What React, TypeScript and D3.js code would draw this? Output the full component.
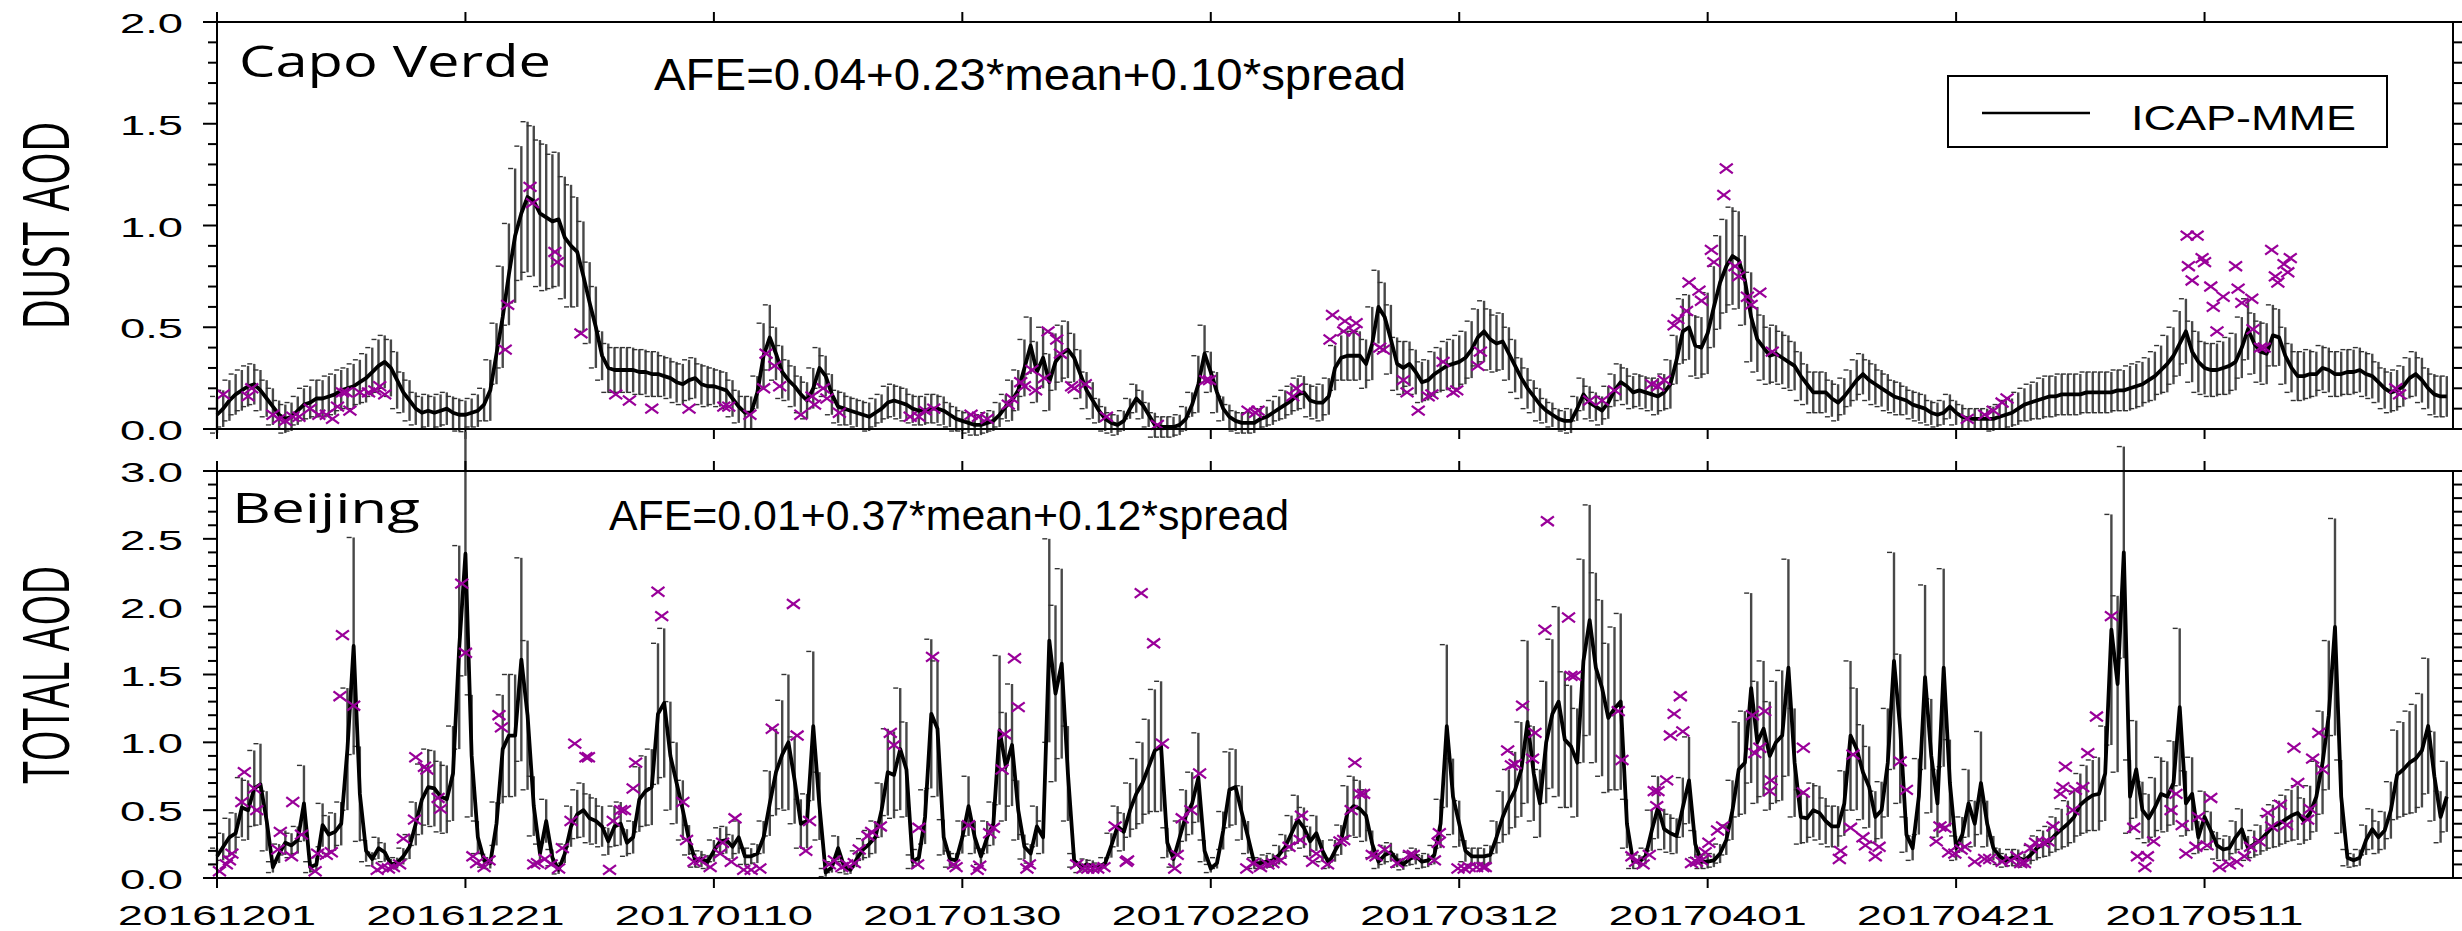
import React from "react";
import * as d3 from "d3";

const W = 2462;
const H = 931;
const X0 = 217;
const X1 = 2453;
const DAYS = 180;
const SAMPLES_PER_DAY = 2;

const xTickDays = [0, 20, 40, 60, 80, 100, 120, 140, 160];
const xTickLabels = ["20161201", "20161221", "20170110", "20170130", "20170220", "20170312", "20170401", "20170421", "20170511"];

// Capo Verde ICAP-MME mean dust AOD, two samples per day
const capoMean = [
  0.07,0.10,0.14,0.17,0.19,0.21,0.22,0.19,0.15,0.11, 0.07,0.05,0.06,0.09,0.12,0.13,0.15,0.15,0.16,0.17,
  0.19,0.20,0.21,0.23,0.25,0.28,0.31,0.33,0.30,0.24, 0.18,0.14,0.10,0.08,0.09,0.08,0.09,0.10,0.08,0.07,
  0.07,0.08,0.09,0.12,0.19,0.37,0.55,0.76,0.95,1.06, 1.14,1.12,1.06,1.04,1.02,1.03,0.94,0.90,0.87,0.75,
  0.62,0.50,0.36,0.30,0.29,0.29,0.29,0.29,0.28,0.28, 0.27,0.27,0.26,0.25,0.23,0.22,0.24,0.25,0.22,0.21,
  0.21,0.20,0.19,0.15,0.11,0.08,0.08,0.18,0.36,0.45, 0.37,0.28,0.24,0.21,0.17,0.14,0.20,0.30,0.26,0.17,
  0.11,0.10,0.09,0.08,0.07,0.06,0.08,0.10,0.13,0.14, 0.13,0.12,0.10,0.09,0.09,0.10,0.10,0.09,0.07,0.05,
  0.04,0.03,0.02,0.02,0.03,0.04,0.07,0.11,0.14,0.19, 0.30,0.41,0.28,0.35,0.23,0.33,0.37,0.39,0.35,0.27,
  0.19,0.14,0.09,0.05,0.03,0.02,0.04,0.10,0.15,0.12, 0.07,0.02,0.01,0.01,0.01,0.02,0.05,0.12,0.22,0.37,
  0.28,0.18,0.10,0.06,0.04,0.03,0.03,0.03,0.05,0.06, 0.08,0.10,0.12,0.14,0.17,0.18,0.14,0.13,0.13,0.16,
  0.30,0.35,0.36,0.36,0.36,0.32,0.42,0.60,0.55,0.44, 0.32,0.30,0.32,0.28,0.23,0.24,0.27,0.29,0.31,0.32,
  0.33,0.35,0.39,0.45,0.48,0.44,0.42,0.43,0.37,0.31, 0.25,0.20,0.16,0.12,0.09,0.07,0.05,0.04,0.04,0.10,
  0.17,0.13,0.11,0.09,0.13,0.19,0.23,0.21,0.18,0.19, 0.18,0.17,0.16,0.18,0.22,0.34,0.48,0.50,0.41,0.40,
  0.47,0.60,0.72,0.80,0.85,0.83,0.73,0.55,0.44,0.40, 0.36,0.37,0.35,0.33,0.31,0.26,0.22,0.18,0.18,0.18,
  0.15,0.13,0.16,0.20,0.24,0.27,0.24,0.22,0.20,0.18, 0.16,0.15,0.14,0.12,0.11,0.10,0.08,0.07,0.08,0.11,
  0.08,0.06,0.05,0.05,0.05,0.05,0.05,0.06,0.07,0.08, 0.10,0.12,0.13,0.14,0.15,0.16,0.16,0.17,0.17,0.17,
  0.17,0.18,0.18,0.18,0.18,0.18,0.19,0.19,0.20,0.21, 0.22,0.24,0.26,0.29,0.32,0.36,0.42,0.48,0.38,0.33,
  0.30,0.29,0.29,0.30,0.31,0.33,0.40,0.49,0.42,0.38, 0.37,0.46,0.45,0.36,0.30,0.26,0.26,0.27,0.27,0.30,
  0.29,0.27,0.27,0.28,0.28,0.29,0.27,0.26,0.23,0.20, 0.18,0.19,0.21,0.25,0.27,0.24,0.20,0.17,0.16,0.16,
];

// Capo Verde ensemble spread (bar half-length), one value per day
const capoSpread = [
  0.09,0.10,0.10,0.10,0.09, 0.07,0.07,0.08, 0.09,0.10,0.10,0.11, 0.12,0.13,0.14,
  0.10,0.08,0.08,0.08,0.08,0.07,0.08, 0.15,0.25, 0.33,0.37,0.36,0.33,0.30, 0.27,0.20,
  0.12,0.11,0.11,0.11,0.11,0.10,0.10,0.10, 0.10,0.09,0.09,0.08,0.08, 0.16,0.13,
  0.10,0.09,0.10,0.10, 0.08,0.07,0.07,0.07,0.08,0.08,0.07,0.07,0.07,0.06,
  0.05,0.05,0.05,0.06, 0.10,0.14,0.15,0.14,0.14,0.12,
  0.09,0.06,0.05,0.05,0.07,0.06,0.05,0.05,0.06, 0.14,0.10, 0.06,0.05,0.05,0.05,
  0.06,0.07,0.08,0.08,0.09, 0.11,0.12,0.12, 0.18,0.17, 0.13,0.11,0.10,0.11,0.12,
  0.13,0.14,0.15,0.14,0.13, 0.10,0.08,0.06,0.05,0.06, 0.08,0.07,0.08,0.09,0.08,0.08,0.09,
  0.12,0.16,0.15, 0.20,0.23,0.24,0.22, 0.16,0.14,0.13,0.12,
  0.10,0.10,0.09,0.09,0.10,0.10,0.09, 0.08,0.07,0.07,0.06,0.06,0.06,0.05,0.05,0.06,0.07,
  0.08,0.09,0.10,0.10,0.10,0.10,0.10,0.10,0.10,0.11,0.11, 0.12,0.14,0.16,0.15,
  0.13,0.13,0.14,0.15,0.15,0.15,0.14, 0.12,0.12,0.11,0.11,0.11,0.11,0.11,0.10,0.10,0.10,0.11,0.10,0.10,
];

// Capo Verde AERONET dust AOD observations: [day since 20161201, AOD]
const capoObs = [
  [0.5,0.17],[2.5,0.16],[2.8,0.20],[4.5,0.07],[5.0,0.05],[5.5,0.04],[6.1,0.06],[6.6,0.06],[7.5,0.10],[8.2,0.07],
  [8.8,0.07],[9.3,0.05],[9.7,0.11],[10.1,0.18],[10.4,0.18],[10.7,0.09],[11.5,0.18],[12.2,0.18],[12.7,0.19],[13.1,0.21],
  [13.5,0.17],[23.2,0.39],[23.4,0.61],[25.2,1.19],[25.4,1.11],[27.2,0.87],[27.4,0.82],[29.3,0.47],[32.1,0.17],[33.2,0.14],
  [35.0,0.10],[38.0,0.10],
  [40.8,0.11],[41.2,0.11],[42.9,0.07],[44.2,0.37],[44.9,0.31],[44.0,0.20],[45.3,0.21],[47.0,0.07],[47.9,0.16],[48.1,0.12],
  [48.8,0.20],[49.1,0.15],[50.1,0.08],[55.8,0.06],[56.5,0.06],[57.0,0.09],[57.7,0.10],[60.7,0.07],[61.3,0.06],[62.0,0.05],
  [63.7,0.12],[64.0,0.15],[64.7,0.23],[65.0,0.21],[65.6,0.29],[65.9,0.19],[66.6,0.25],[66.9,0.48],[67.6,0.44],[67.9,0.37],
  [68.8,0.21],[69.0,0.20],[69.9,0.22],[71.6,0.06],[75.7,0.02],[79.6,0.24],[79.9,0.24],[83.0,0.09],
  [83.6,0.08],[83.8,0.09],[86.6,0.16],[86.9,0.20],[89.6,0.44],[89.8,0.56],[90.8,0.53],[90.7,0.48],[91.7,0.52],[91.5,0.48],
  [93.6,0.40],[93.9,0.39],[95.5,0.24],[95.8,0.18],[96.7,0.09],[97.5,0.16],[97.8,0.17],[98.7,0.33],[99.5,0.18],[99.8,0.19],
  [101.5,0.31],[101.7,0.38],[110.5,0.14],[111.5,0.14],[112.5,0.19],[115.5,0.22],[116.0,0.21],[116.5,0.24],[117.3,0.51],[117.6,0.54],
  [118.3,0.58],[118.5,0.72],[119.3,0.68],[119.5,0.63],[120.3,0.88],[120.5,0.82],[121.3,1.15],[121.5,1.28],[122.2,0.80],[122.5,0.75],
  [123.2,0.65],[123.5,0.61],[124.2,0.67],[125.2,0.38],
  [140.9,0.05],[142.3,0.07],[143.0,0.09],[143.7,0.13],[144.1,0.15],[158.6,0.95],[159.4,0.95],[158.7,0.80],[159.8,0.84],[160.0,0.82],
  [159.0,0.73],[160.5,0.70],[161.5,0.65],[160.7,0.60],[161.0,0.48],[162.5,0.80],[162.7,0.69],[163.0,0.62],[163.8,0.64],[163.9,0.49],
  [164.5,0.40],[164.8,0.40],[165.4,0.88],[165.7,0.75],[165.9,0.72],[166.4,0.81],[166.9,0.84],[166.7,0.77],[175.4,0.20],[175.7,0.17],
];

// Beijing ICAP-MME mean total AOD, two samples per day
const bjMean = [
  0.16,0.23,0.30,0.33,0.52,0.50,0.66,0.69,0.42,0.08, 0.18,0.26,0.24,0.28,0.55,0.08,0.10,0.39,0.32,0.34,
  0.40,0.95,1.71,0.62,0.20,0.14,0.22,0.19,0.10,0.11, 0.16,0.23,0.40,0.58,0.67,0.66,0.60,0.58,0.77,1.70,
  2.39,0.90,0.30,0.13,0.11,0.40,0.95,1.05,1.05,1.61, 1.20,0.53,0.18,0.42,0.15,0.06,0.18,0.38,0.47,0.50,
  0.44,0.42,0.38,0.27,0.38,0.40,0.26,0.30,0.58,0.64, 0.67,1.21,1.29,0.90,0.70,0.50,0.28,0.13,0.14,0.12,
  0.20,0.27,0.28,0.23,0.30,0.16,0.16,0.18,0.30,0.55, 0.78,0.91,1.00,0.72,0.40,0.42,1.12,0.53,0.04,0.08,
  0.22,0.08,0.06,0.14,0.21,0.25,0.30,0.50,0.78,0.76, 0.95,0.80,0.12,0.15,0.45,1.21,1.10,0.30,0.14,0.13,
  0.30,0.53,0.30,0.16,0.30,0.40,1.09,0.82,0.98,0.50, 0.23,0.18,0.38,0.30,1.75,1.36,1.58,0.77,0.13,0.08,
  0.10,0.09,0.08,0.11,0.24,0.38,0.34,0.50,0.62,0.70, 0.82,0.94,0.97,0.26,0.14,0.30,0.46,0.55,0.74,0.20,
  0.07,0.11,0.35,0.65,0.67,0.48,0.30,0.11,0.11,0.12, 0.13,0.17,0.23,0.33,0.43,0.37,0.27,0.33,0.20,0.11,
  0.20,0.28,0.48,0.53,0.51,0.46,0.25,0.12,0.17,0.19, 0.13,0.10,0.14,0.16,0.12,0.13,0.17,0.40,1.12,0.60,
  0.40,0.20,0.16,0.16,0.16,0.17,0.30,0.45,0.56,0.65, 0.80,1.15,0.77,0.55,1.00,1.21,1.30,1.02,0.97,0.85,
  1.60,1.90,1.55,1.40,1.18,1.25,1.30,0.40,0.12,0.12, 0.16,0.35,0.52,0.36,0.33,0.31,0.52,0.72,0.25,0.12,
  0.12,0.13,0.18,0.28,0.50,0.80,0.85,1.40,1.00,1.10, 0.90,1.00,1.05,1.55,0.85,0.45,0.44,0.50,0.48,0.42,
  0.38,0.38,0.55,1.05,0.95,0.78,0.67,0.45,0.50,0.85, 1.60,1.10,0.32,0.22,0.60,1.48,0.90,0.55,1.55,0.70,
  0.22,0.32,0.55,0.40,0.70,0.40,0.22,0.16,0.13,0.15, 0.15,0.13,0.17,0.22,0.25,0.27,0.32,0.36,0.40,0.45,
  0.54,0.58,0.61,0.62,0.77,1.83,1.43,2.40,0.60,0.80, 0.50,0.44,0.52,0.62,0.60,0.70,1.26,0.55,0.62,0.30,
  0.45,0.35,0.24,0.21,0.22,0.30,0.36,0.22,0.25,0.28, 0.33,0.38,0.40,0.43,0.46,0.48,0.42,0.48,0.60,0.85,
  1.20,1.85,0.60,0.15,0.13,0.15,0.28,0.36,0.30,0.35, 0.50,0.76,0.80,0.85,0.88,0.94,1.12,0.75,0.45,0.60,
];

// Beijing ensemble spread (bar half-length), two samples per day
const bjSpread = [
  0.06,0.10,0.14,0.15,0.22,0.22,0.28,0.30,0.22,0.04, 0.07,0.09,0.09,0.10,0.28,0.04,0.05,0.16,0.14,0.14,
  0.16,0.45,0.80,0.35,0.08,0.05,0.08,0.07,0.04,0.04, 0.06,0.09,0.16,0.26,0.28,0.28,0.26,0.25,0.35,0.75,
  0.90,0.45,0.12,0.05,0.04,0.16,0.40,0.45,0.45,0.75, 0.55,0.22,0.07,0.16,0.06,0.03,0.07,0.15,0.18,0.20,
  0.18,0.17,0.15,0.10,0.15,0.16,0.10,0.12,0.24,0.26, 0.28,0.52,0.55,0.40,0.30,0.22,0.11,0.05,0.06,0.05,
  0.08,0.10,0.10,0.09,0.12,0.06,0.06,0.07,0.12,0.24, 0.32,0.40,0.50,0.32,0.18,0.20,0.55,0.25,0.03,0.04,
  0.09,0.04,0.03,0.06,0.08,0.10,0.12,0.20,0.32,0.32, 0.45,0.35,0.05,0.06,0.20,0.55,0.50,0.13,0.06,0.05,
  0.12,0.22,0.12,0.06,0.12,0.16,0.55,0.40,0.45,0.22, 0.09,0.07,0.15,0.12,0.75,0.65,0.70,0.35,0.05,0.04,
  0.04,0.04,0.03,0.04,0.09,0.15,0.14,0.20,0.26,0.30, 0.35,0.45,0.48,0.11,0.06,0.12,0.19,0.23,0.33,0.08,
  0.03,0.04,0.14,0.28,0.28,0.20,0.12,0.04,0.04,0.05, 0.05,0.07,0.09,0.13,0.18,0.15,0.11,0.13,0.08,0.04,
  0.08,0.11,0.20,0.22,0.21,0.19,0.10,0.05,0.07,0.07, 0.05,0.04,0.05,0.06,0.05,0.05,0.07,0.18,0.60,0.28,
  0.17,0.08,0.06,0.06,0.06,0.07,0.12,0.19,0.24,0.28, 0.35,0.60,0.35,0.25,0.45,0.55,0.70,0.50,0.45,0.40,
  0.75,0.85,0.70,0.65,0.55,0.60,0.65,0.18,0.05,0.05, 0.06,0.15,0.23,0.15,0.14,0.13,0.22,0.32,0.10,0.05,
  0.05,0.05,0.07,0.11,0.22,0.35,0.38,0.70,0.45,0.50, 0.40,0.45,0.48,0.80,0.40,0.20,0.18,0.20,0.20,0.17,
  0.15,0.15,0.24,0.55,0.45,0.35,0.30,0.19,0.21,0.40, 0.80,0.55,0.13,0.09,0.28,0.68,0.42,0.25,0.73,0.32,
  0.09,0.13,0.25,0.17,0.38,0.17,0.09,0.06,0.05,0.06, 0.06,0.05,0.07,0.09,0.10,0.11,0.13,0.15,0.17,0.19,
  0.23,0.25,0.26,0.27,0.35,0.85,0.65,0.78,0.27,0.36, 0.21,0.18,0.22,0.27,0.26,0.31,0.58,0.24,0.27,0.12,
  0.19,0.14,0.10,0.08,0.09,0.12,0.15,0.09,0.10,0.11, 0.13,0.16,0.17,0.18,0.19,0.20,0.17,0.20,0.26,0.38,
  0.55,0.80,0.27,0.06,0.05,0.06,0.11,0.15,0.12,0.14, 0.21,0.33,0.35,0.38,0.40,0.42,0.50,0.33,0.19,0.26,
];

// Beijing AERONET total AOD observations: [day since 20161201, AOD]
const bjObs = [
  [0.2,0.05],[0.75,0.10],[1.0,0.13],[1.2,0.18],[2.0,0.56],[2.2,0.78],[3.0,0.66],[3.2,0.50],[5.1,0.34],[4.9,0.21],
  [6.0,0.16],[6.1,0.56],[6.8,0.32],[7.9,0.05],[8.1,0.18],[8.8,0.17],[9.2,0.19],[9.9,1.34],[10.1,1.79],[11.0,1.27],
  [12.9,0.06],[13.3,0.08],[13.8,0.07],[14.2,0.08],[14.7,0.10],[15.0,0.29],[15.9,0.43],[16.0,0.89],[16.7,0.82],[16.9,0.80],
  [17.8,0.59],[18.0,0.51],[19.7,2.17],[20.0,1.66],[20.6,0.16],[20.9,0.11],[21.5,0.08],[21.9,0.13],[22.7,1.20],[22.9,1.11],
  [25.5,0.10],[25.8,0.11],[26.4,0.14],[26.9,0.10],[27.5,0.07],[27.8,0.22],[28.5,0.42],[28.8,0.99],[29.7,0.89],[29.9,0.89],
  [31.6,0.06],[31.9,0.42],[32.5,0.50],[32.8,0.50],[33.5,0.66],[33.7,0.85],[35.5,2.11],[35.8,1.93],[37.5,0.56],[37.8,0.28],
  [38.4,0.12],
  [38.9,0.13],[39.7,0.08],[40.5,0.18],[40.7,0.26],[41.4,0.12],[41.7,0.44],[42.4,0.06],[43.0,0.06],[43.7,0.07],[44.7,1.10],
  [46.4,2.02],[46.7,1.05],[47.4,0.20],[47.7,0.42],[49.3,0.10],[49.7,0.13],[50.3,0.08],[50.7,0.10],[51.3,0.11],[51.7,0.21],
  [52.4,0.31],[52.7,0.34],[53.4,0.38],[54.2,1.07],[54.5,0.98],[56.4,0.10],[56.5,0.37],[57.6,1.63],[59.3,0.10],[59.5,0.08],
  [60.5,0.39],[61.2,0.06],[61.4,0.09],[62.2,0.33],[62.5,0.37],[63.2,0.80],[63.4,1.06],[64.2,1.62],[64.5,1.26],[65.2,0.07],
  [65.4,0.10],[69.2,0.10],[69.7,0.07],[70.1,0.07],[70.5,0.07],[70.9,0.07],[71.4,0.08],[72.3,0.38],[73.2,0.12],[73.3,0.13],
  [74.4,2.10],[75.4,1.73],[76.1,0.99],[77.1,0.07],[77.3,0.17],[77.7,0.44],[78.4,0.50],[79.1,0.77],[82.9,0.07],
  [83.4,0.11],[84.0,0.08],[84.6,0.10],[85.0,0.11],[85.6,0.13],[86.3,0.23],[87.2,0.28],[87.3,0.46],[88.2,0.12],[88.5,0.18],
  [89.4,0.10],[90.4,0.27],[90.7,0.28],[91.3,0.50],[91.6,0.85],[92.0,0.62],[92.3,0.62],[93.0,0.17],[93.3,0.16],[94.0,0.21],
  [95.0,0.11],[96.0,0.17],[96.3,0.17],[98.0,0.13],[98.3,0.26],[98.4,0.33],[99.9,0.07],[100.4,0.07],[100.8,0.08],[101.4,0.08],
  [101.9,0.08],[102.1,0.08],[103.9,0.94],[104.2,0.83],[104.5,0.84],[105.1,1.27],[105.9,0.88],[106.1,1.07],[106.9,1.83],[107.1,2.63],
  [108.8,1.92],[109.0,1.49],[109.3,1.49],[112.8,1.23],[113.1,0.87],[113.9,0.16],[114.2,0.12],[114.8,0.10],[115.3,0.17],[115.7,0.64],
  [116.0,0.64],[115.9,0.53],[116.7,0.72],[117.0,1.05],[117.3,1.21],[117.8,1.34],[118.0,1.08],[118.7,0.11],[119.1,0.12],[119.5,0.13],
  [119.8,0.19],[120.1,0.26],[120.8,0.35],[121.2,0.38],[123.6,1.20],[123.8,0.92],[124.2,0.96],[124.6,1.23],[125.1,0.72],[125.0,0.64],
  [127.7,0.96],[127.7,0.63],[130.6,0.14],[130.7,0.20],[131.5,0.37],[131.7,0.91],[132.5,0.30],[132.7,0.24],[133.5,0.16],[133.8,0.23],
  [135.5,0.86],[136.0,0.65],[138.4,0.27],[138.7,0.38],[139.1,0.37],[139.4,0.19],[139.9,0.18],[140.4,0.21],[140.7,0.23],[141.5,0.12],
  [142.3,0.14],[142.7,0.14],[143.7,0.12],[144.4,0.13],[144.9,0.16],[145.2,0.11],[145.5,0.11],[146.0,0.22],[146.4,0.26],[147.0,0.26],
  [147.4,0.27],[147.8,0.38],[148.4,0.62],[148.6,0.67],[149.4,0.50],[148.8,0.82],[149.6,0.65],[150.2,0.67],[150.6,0.92],[151.3,1.19],
  [152.5,1.93],[154.3,0.37],[154.6,0.16],[155.4,0.16],[155.2,0.08],[155.9,0.27],[157.3,0.50],[157.7,0.62],[158.2,0.39],[158.5,0.18],
  [159.3,0.23],[159.5,0.45],[160.2,0.24],[160.5,0.59],[161.2,0.08],[162.0,0.10],[162.6,0.12],[163.2,0.16],[163.7,0.23],[164.4,0.27],
  [165.1,0.48],[165.4,0.38],[166.1,0.54],[166.6,0.39],[167.2,0.96],[167.5,0.70],[168.3,0.43],[168.5,0.51],[168.7,0.88],[169.2,1.07],
  [169.5,0.80],
];

const xScale = d3.scaleLinear().domain([0, DAYS]).range([X0, X1]);

const OBS_COLOR = "#990099";
const BAR_COLOR = "#484848";

type PanelProps = {
  top: number;
  bottom: number;
  yMax: number;
  mean: number[];
  spreadAt: (i: number) => number;
  obs: number[][];
  title: string;
  titleX: number;
  titleY: number;
  titleSize: number;
  titleLen: number;
  afe: string;
  afeX: number;
  afeY: number;
  afeSize: number;
  afeLen: number;
  yLabel: string;
  yLabelLen: number;
  showX: boolean;
};

function Panel(p: PanelProps) {
  const y = d3.scaleLinear().domain([0, p.yMax]).range([p.bottom, p.top]);
  const line = d3
    .line<number>()
    .x((_, i) => xScale(i / SAMPLES_PER_DAY))
    .y((v) => y(v));
  const yTicks = d3.range(0, Math.round(p.yMax * 10) + 1).map((k) => k / 10);
  const isMajor = (v: number) => Math.abs(v * 2 - Math.round(v * 2)) < 1e-6;
  const midY = (p.top + p.bottom) / 2;

  return (
    <g>
      {/* error bars */}
      <g>
        {p.mean.map((m, i) => {
          const s = p.spreadAt(i);
          const xx = xScale(i / SAMPLES_PER_DAY);
          const yt = y(m + s);
          const yb = y(m - s);
          return (
            <g key={i}>
              <line x1={xx} x2={xx} y1={yt} y2={yb} stroke={BAR_COLOR} strokeWidth={2.4} />
              <line x1={xx - 7} x2={xx - 2} y1={yt} y2={yt} stroke="#333" strokeWidth={1.4} />
              <line x1={xx - 7} x2={xx - 2} y1={yb} y2={yb} stroke="#333" strokeWidth={1.4} />
            </g>
          );
        })}
      </g>
      {/* mean line */}
      <path d={line(p.mean) || ""} fill="none" stroke="#000" strokeWidth={3.8} strokeLinejoin="round" />
      {/* observations */}
      <g stroke={OBS_COLOR} strokeWidth={2.2}>
        {p.obs.map(([d, v], i) => {
          const cx = xScale(d);
          const cy = y(v);
          return (
            <g key={i}>
              <line x1={cx - 6.5} x2={cx + 6.5} y1={cy - 4.8} y2={cy + 4.8} />
              <line x1={cx - 6.5} x2={cx + 6.5} y1={cy + 4.8} y2={cy - 4.8} />
            </g>
          );
        })}
      </g>
      {/* frame */}
      <rect x={X0} y={p.top} width={X1 - X0} height={p.bottom - p.top} fill="none" stroke="#000" strokeWidth={2} />
      {/* y ticks left and right */}
      {yTicks.map((v) => {
        const yy = y(v);
        const len = isMajor(v) ? 14 : 9;
        return (
          <g key={v}>
            <line x1={X0 - len} x2={X0} y1={yy} y2={yy} stroke="#000" strokeWidth={2} />
            <line x1={X1} x2={X1 + 10} y1={yy} y2={yy} stroke="#000" strokeWidth={2} />
          </g>
        );
      })}
      {yTicks.filter(isMajor).map((v) => (
        <text
          key={"l" + v}
          x={183}
          y={y(v) + 11}
          textAnchor="end"
          fontFamily="'Liberation Sans', Arial, sans-serif"
          fontSize={28}
          textLength={63}
          lengthAdjust="spacingAndGlyphs"
        >
          {d3.format(".1f")(v)}
        </text>
      ))}
      {/* x ticks */}
      {xTickDays.map((d) => {
        const xx = xScale(d);
        return (
          <g key={d}>
            <line x1={xx} x2={xx} y1={p.top - 10} y2={p.top} stroke="#000" strokeWidth={2} />
            <line x1={xx} x2={xx} y1={p.bottom} y2={p.bottom + 10} stroke="#000" strokeWidth={2} />
          </g>
        );
      })}
      {p.showX &&
        xTickDays.map((d, i) => (
          <text
            key={"x" + d}
            x={xScale(d)}
            y={925}
            textAnchor="middle"
            fontFamily="'Liberation Sans', Arial, sans-serif"
            fontSize={28}
            textLength={198}
            lengthAdjust="spacingAndGlyphs"
          >
            {xTickLabels[i]}
          </text>
        ))}
      {/* y-axis title */}
      <text
        transform={`translate(69, ${midY}) rotate(-90)`}
        textAnchor="middle"
        fontFamily="'Open Sans', 'Noto Sans', sans-serif"
        fontSize={64}
        textLength={p.yLabelLen}
        lengthAdjust="spacingAndGlyphs"
      >
        {p.yLabel}
      </text>
      {/* station name */}
      <text
        x={p.titleX}
        y={p.titleY}
        fontFamily="'Open Sans', 'Noto Sans', sans-serif"
        fontSize={p.titleSize}
        textLength={p.titleLen}
        lengthAdjust="spacingAndGlyphs"
      >
        {p.title}
      </text>
      {/* AFE formula */}
      <text
        x={p.afeX}
        y={p.afeY}
        fontFamily="'Liberation Sans', Arial, sans-serif"
        fontSize={p.afeSize}
        textLength={p.afeLen}
        lengthAdjust="spacingAndGlyphs"
      >
        {p.afe}
      </text>
    </g>
  );
}

export default function App() {
  return (
    <svg
      width={W}
      height={H}
      viewBox={`0 0 ${W} ${H}`}
      style={{ position: "absolute", left: 0, top: 0, background: "#fff" }}
    >
      <rect x={0} y={0} width={W} height={H} fill="#fff" />
      <Panel
        top={22}
        bottom={429}
        yMax={2}
        mean={capoMean}
        spreadAt={(i) => capoSpread[Math.floor(i / SAMPLES_PER_DAY)]}
        obs={capoObs}
        title="Capo Verde"
        titleX={239}
        titleY={77}
        titleSize={44}
        titleLen={312}
        afe="AFE=0.04+0.23*mean+0.10*spread"
        afeX={654}
        afeY={90}
        afeSize={45}
        afeLen={752}
        yLabel="DUST AOD"
        yLabelLen={208}
        showX={false}
      />
      <Panel
        top={471}
        bottom={878}
        yMax={3}
        mean={bjMean}
        spreadAt={(i) => bjSpread[i]}
        obs={bjObs}
        title="Beijing"
        titleX={232}
        titleY={523}
        titleSize={42}
        titleLen={188}
        afe="AFE=0.01+0.37*mean+0.12*spread"
        afeX={609}
        afeY={530}
        afeSize={43}
        afeLen={680}
        yLabel="TOTAL AOD"
        yLabelLen={218}
        showX={true}
      />
      {/* legend */}
      <g>
        <rect x={1948} y={76} width={439} height={71} fill="#fff" stroke="#000" strokeWidth={2} />
        <line x1={1982} x2={2090} y1={113} y2={113} stroke="#000" strokeWidth={2.5} />
        <text
          x={2131}
          y={130}
          fontFamily="'Liberation Sans', Arial, sans-serif"
          fontSize={35}
          textLength={225}
          lengthAdjust="spacingAndGlyphs"
        >
          ICAP-MME
        </text>
      </g>
    </svg>
  );
}
